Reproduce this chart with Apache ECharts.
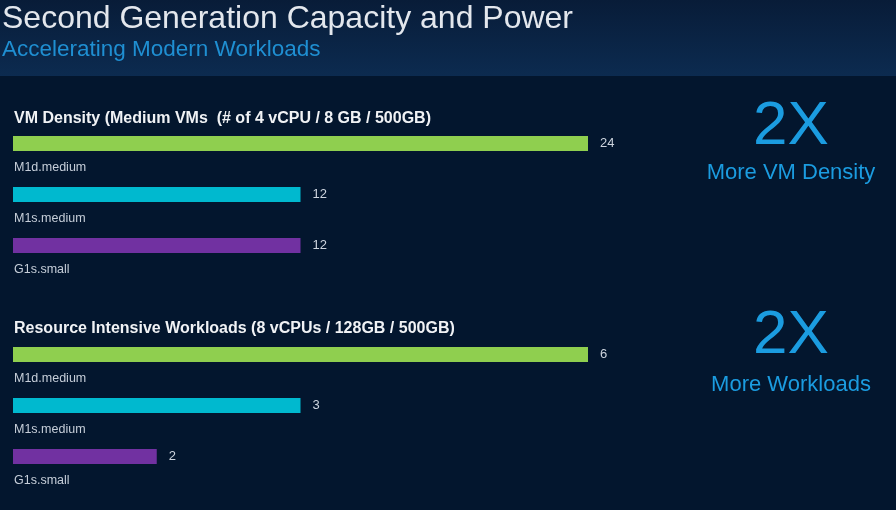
<!DOCTYPE html>
<html>
<head>
<meta charset="utf-8">
<title>Second Generation Capacity and Power</title>
<script src="https://cdn.jsdelivr.net/npm/echarts@6/dist/echarts.min.js"></script>
<style>
  html, body { margin: 0; padding: 0; background: #03162e; }
  #chart { width: 896px; height: 510px; }
</style>
</head>
<body>
<div id="chart"></div>
<script>
// 数据
var categories = ['M1d.medium', 'M1s.medium', 'G1s.small'];
var densityValues = [24, 12, 12];
var densityLabels = ['24', '12', '12'];
// 原图里 "2" 的柱子只画到约 1.5 的长度，这里照图上的长度画，标签仍写 2
var workloadValues = [6, 3, 1.5];
var workloadLabels = ['6', '3', '2'];
var barColors = ['#8fcf4f', '#00b9cf', '#7131a1'];

var titleMain = 'Second Generation Capacity and Power';
var titleSub = 'Accelerating Modern Workloads';
var densityTitle = 'VM Density (Medium VMs  (# of 4 vCPU / 8 GB / 500GB)';
var workloadTitle = 'Resource Intensive Workloads (8 vCPUs / 128GB / 500GB)';
var calloutBig = ['2X', '2X'];
var calloutText = ['More VM Density', 'More Workloads'];

var FONT = 'Liberation Sans';
var chart = echarts.init(document.getElementById('chart'));

function coloured(values) {
    return values.map(function (v, i) {
        return { value: v, itemStyle: { color: barColors[i] } };
    });
}

// 柱子 + 数值
function barSeries(idx, values, labels) {
    return {
        type: 'bar',
        xAxisIndex: idx,
        yAxisIndex: idx,
        data: coloured(values),
        barWidth: 15,
        silent: true,
        label: {
            show: true,
            position: 'right',
            distance: 12,
            formatter: function (p) { return labels[p.dataIndex]; },
            color: '#cdd4de',
            fontSize: 13,
            fontFamily: FONT
        }
    };
}

// 名称放在柱子下方（透明柱子只用来挂标签）
function nameSeries(idx, values) {
    return {
        type: 'bar',
        xAxisIndex: idx,
        yAxisIndex: idx,
        data: values,
        barWidth: 15,
        barGap: '-100%',
        silent: true,
        itemStyle: { color: 'transparent' },
        label: {
            show: true,
            position: [1, 32],
            verticalAlign: 'middle',
            formatter: '{b}',
            color: '#c6ced9',
            fontSize: 12.5,
            fontFamily: FONT
        }
    };
}

function txt(str, x, y, size, color, weight, align) {
    return {
        type: 'text',
        x: x,
        y: y,
        silent: true,
        style: {
            text: str,
            fill: color,
            font: (weight || 'normal') + ' ' + size + 'px "' + FONT + '"',
            textAlign: align || 'left',
            textVerticalAlign: 'middle'
        }
    };
}

var option = {
    backgroundColor: '#03162e',
    animation: false,
    graphic: [
        {
            type: 'rect',
            shape: { x: 0, y: 0, width: 896, height: 76 },
            style: {
                fill: new echarts.graphic.LinearGradient(0, 0, 0, 1, [
                    { offset: 0, color: '#081c38' },
                    { offset: 1, color: '#0c2b50' }
                ])
            },
            z: -1
        },
        txt(titleMain, 2, 19, 32, '#e3e7ed'),
        txt(titleSub, 2, 50, 22.5, '#1f8fd2'),
        txt(densityTitle, 14, 119, 16, '#f0f2f5', 'bold'),
        txt(workloadTitle, 14, 329, 16, '#f0f2f5', 'bold'),
        txt(calloutBig[0], 791, 127, 62, '#1b9ce0', 'normal', 'center'),
        txt(calloutText[0], 791, 173, 22, '#1b9ce0', 'normal', 'center'),
        txt(calloutBig[1], 791, 336, 62, '#1b9ce0', 'normal', 'center'),
        txt(calloutText[1], 791, 385, 22, '#1b9ce0', 'normal', 'center')
    ],
    grid: [
        { left: 13, top: 118, width: 575, height: 153 },
        { left: 13, top: 329, width: 575, height: 153 }
    ],
    xAxis: [
        { type: 'value', gridIndex: 0, min: 0, max: 24, show: false },
        { type: 'value', gridIndex: 1, min: 0, max: 6, show: false }
    ],
    yAxis: [
        { type: 'category', gridIndex: 0, data: categories, inverse: true, show: false },
        { type: 'category', gridIndex: 1, data: categories, inverse: true, show: false }
    ],
    series: [
        barSeries(0, densityValues, densityLabels),
        nameSeries(0, densityValues),
        barSeries(1, workloadValues, workloadLabels),
        nameSeries(1, workloadValues)
    ]
};
chart.setOption(option);
</script>
</body>
</html>
